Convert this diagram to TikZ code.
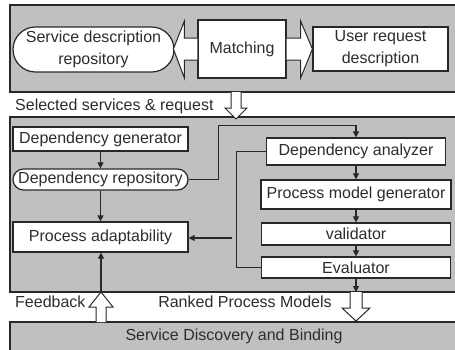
\documentclass[tikz,border=0pt]{standalone}
\usepackage{fontspec}
\setmainfont{Liberation Sans}
\usetikzlibrary{shapes.misc,arrows.meta,calc}
\definecolor{panelgray}{RGB}{192,192,192}
\definecolor{ink}{RGB}{40,40,40}
\definecolor{txt}{RGB}{45,45,45}
\begin{document}
\begin{tikzpicture}[x=1pt,y=-1pt,
  font=\fontsize{16}{20}\selectfont, text=txt,
  panel/.style={fill=panelgray,draw=ink,line width=1.2pt},
  box/.style={draw=ink,fill=white,line width=1.2pt,inner sep=0pt,align=center},
  stad/.style={box,rounded rectangle},
  conn/.style={draw=ink,line width=1.1pt},
  arr/.style={conn,-{Triangle[length=6pt,width=6pt]}},
  hollow/.style={draw=ink,fill=white,line width=1pt,line join=miter},
  lbl/.style={inner sep=0pt}]
\clip (0,0) rectangle (455,349);
\fill[white] (0,0) rectangle (455,349);
% panels
\draw[panel] (470,5) -- (10,5) -- (10,92) -- (470,92);
\draw[panel] (470,117) -- (10,117) -- (10,292) -- (470,292);
\fill[panelgray] (10,322) rectangle (470,370);
\draw[ink,line width=1.2pt] (470,322) -- (10,322) -- (10,370);
% top row
\node[stad,minimum width=161pt,minimum height=45pt,font=\fontsize{16}{22}\selectfont] (sdr) at (93.5,49.5) {Service description\\repository};
\node[box,minimum width=88pt,minimum height=58pt] (match) at (242,49) {Matching};
\node[box,minimum width=135pt,minimum height=44pt,font=\fontsize{16}{22}\selectfont] (urd) at (380.5,49) {User request\\description};
\draw[hollow] ($(match.west)+(0,-11)$) -- ($(match.west)+(-13,-11)$) -- ($(match.west)+(-13,-28)$)
  -- ($(match.west)+(-24,0)$) -- ($(match.west)+(-13,29)$) -- ($(match.west)+(-13,11)$) -- ($(match.west)+(0,11)$);
\draw[hollow] ($(match.east)+(0,-11)$) -- ($(match.east)+(14,-11)$) -- ($(match.east)+(14,-28)$)
  -- (urd.west) -- ($(match.east)+(14,29)$) -- ($(match.east)+(14,11)$) -- ($(match.east)+(0,11)$);
% selected services
\node[lbl,anchor=west] (sel) at (15,106) {Selected services \& request};
\draw[hollow] (231,92) -- (231,108) -- (225,108) -- (236,119) -- (247,108) -- (241,108) -- (241,92);
% middle left column
\node[box,minimum width=175pt,minimum height=24pt] (dgen) at (100.5,139) {Dependency generator};
\node[stad,minimum width=175pt,minimum height=21pt] (drep) at (100.5,179.5) {Dependency repository};
\node[box,minimum width=175pt,minimum height=30pt] (padapt) at (100.5,237) {Process adaptability};
% middle right column
\node[box,minimum width=179pt,minimum height=27pt] (dana) at (356,151.5) {Dependency analyzer};
\node[box,minimum width=190pt,minimum height=29pt] (pmg) at (356,194.5) {Process model generator};
\node[box,minimum width=189pt,minimum height=22pt] (val) at (356,234) {validator};
\node[box,minimum width=189pt,minimum height=21pt] (eval) at (356,267.5) {Evaluator};
% connectors
\draw[arr] (dgen.south) -- (drep.north);
\draw[arr] (drep.south) -- (padapt.north);
\draw[arr] (drep.east) -- ++(30,0) |- ($(dana.north)+(0,-12)$) -- (dana.north);
\draw[arr] (dana.south) -- (pmg.north);
\draw[arr] (pmg.south) -- (val.north);
\draw[arr] (val.south) -- (eval.north);
\draw[conn] (dana.west) -- ++(-29,0) |- (eval.west);
\coordinate (fb) at (232,238);
\draw[arr] (fb) -- (fb -| padapt.east);
\coordinate (mb) at (356,292);
\draw[arr] (eval.south) -- (mb);
\coordinate (fbtip) at (101,292);
\draw[arr] (fbtip) -- (fbtip |- padapt.south);
% bottom labels and hollow arrows
\node[lbl,anchor=west] (fbl) at (15,302) {Feedback};
\draw[hollow] (96,322) -- (96,307) -- (89,307) -- (101,292) -- (113,307) -- (106,307) -- (106,322);
\node[lbl] (rpm) at (245,302) {Ranked Process Models};
\draw[hollow] (350,292) -- (350,308) -- (342,308) -- (356,321) -- (370,308) -- (362,308) -- (362,292);
% bottom panel
\node[lbl] (sdb) at (234,336) {Service Discovery and Binding};
\end{tikzpicture}
\end{document}
